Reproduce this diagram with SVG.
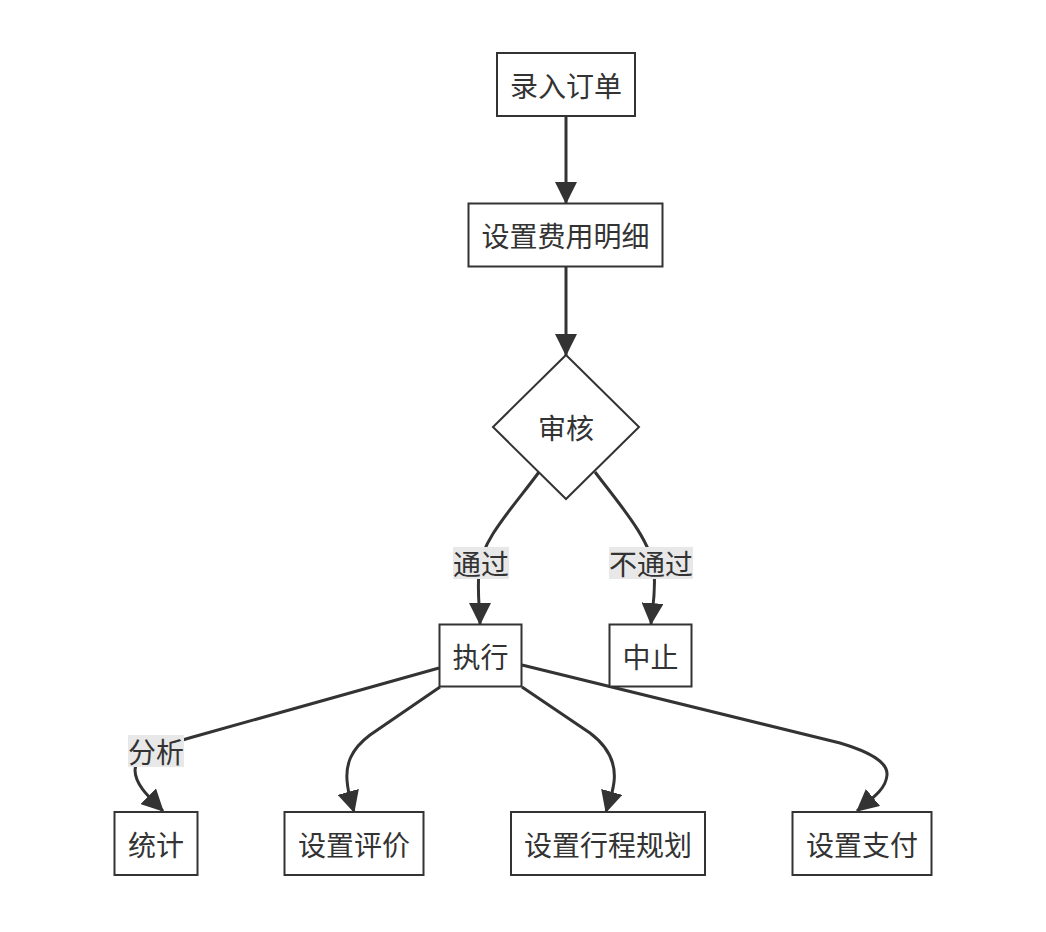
<svg xmlns="http://www.w3.org/2000/svg" width="1046" height="932" viewBox="0 0 1046 932">
<style>
.node rect, .node polygon { fill: #ffffff; stroke: #333333; stroke-width: 2; }
.node text, .lbl text { font-family: "Noto Sans CJK SC", "Noto Sans", sans-serif; font-size: 28px; fill: #333333; text-anchor: middle; dominant-baseline: central; }
.edge { fill: none; stroke: #333333; stroke-width: 3; marker-end: url(#arrow); }
.lbl rect { fill: #e8e8e8; stroke: none; }
</style>
<defs>
<marker id="arrow" viewBox="0 0 20 20" markerUnits="userSpaceOnUse" markerWidth="22" markerHeight="22" refX="19" refY="10" orient="auto">
<path d="M0,0 L20,10 L0,20 z" fill="#333333"/>
</marker>
</defs>
<rect x="0" y="0" width="1046" height="932" fill="#ffffff"/>
<g id="connectors">
<path class="edge" d="M566,116 L566,203"/>
<path class="edge" d="M566,267 L566,355"/>
<path class="edge" d="M539,472 C515,505 481,540 479,570 C477,595 480,610 480,624"/>
<path class="edge" d="M595,472 C620,505 651,540 654,570 C656,595 652,610 651,624"/>
<path class="edge" d="M439,668 L200,735 C160,746 135,755 135,770 C135,785 150,798 163,811"/>
<path class="edge" d="M440,687 L370,735 C350,750 346,765 347,780 C348,795 352,805 354,812"/>
<path class="edge" d="M522,687 L590,733 C610,748 616,765 614,782 C612,797 608,805 606,812"/>
<path class="edge" d="M522,665 L840,743 C870,752 888,762 887,775 C886,790 870,800 857,811"/>
</g>
<g id="label-pass" class="lbl"><rect x="453" y="547" width="56" height="32"/><text x="481" y="563">通过</text></g>
<g id="label-fail" class="lbl"><rect x="609" y="547" width="84" height="32"/><text x="651" y="563">不通过</text></g>
<g id="label-analyze" class="lbl"><rect x="128" y="735" width="56" height="32"/><text x="156" y="751">分析</text></g>
<g id="n-entry" class="node"><rect x="497" y="53" width="138" height="63"/><text x="566" y="84.5">录入订单</text></g>
<g id="n-fee" class="node"><rect x="468.5" y="203.5" width="194" height="63"/><text x="565.5" y="235">设置费用明细</text></g>
<g id="n-review" class="node"><polygon points="566,355 639,427 566,499 493,427"/><text x="566" y="427">审核</text></g>
<g id="n-exec" class="node"><rect x="439.5" y="624.5" width="82" height="62"/><text x="480.5" y="655.5">执行</text></g>
<g id="n-stop" class="node"><rect x="609.5" y="624.5" width="82" height="62"/><text x="650.5" y="655.5">中止</text></g>
<g id="n-stat" class="node"><rect x="114.5" y="812" width="83" height="63"/><text x="156" y="843.5">统计</text></g>
<g id="n-eval" class="node"><rect x="284.5" y="812" width="139" height="63"/><text x="354" y="843.5">设置评价</text></g>
<g id="n-trip" class="node"><rect x="511" y="812" width="194" height="63"/><text x="608" y="843.5">设置行程规划</text></g>
<g id="n-pay" class="node"><rect x="792.5" y="812" width="139" height="63"/><text x="862" y="843.5">设置支付</text></g>
</svg>
